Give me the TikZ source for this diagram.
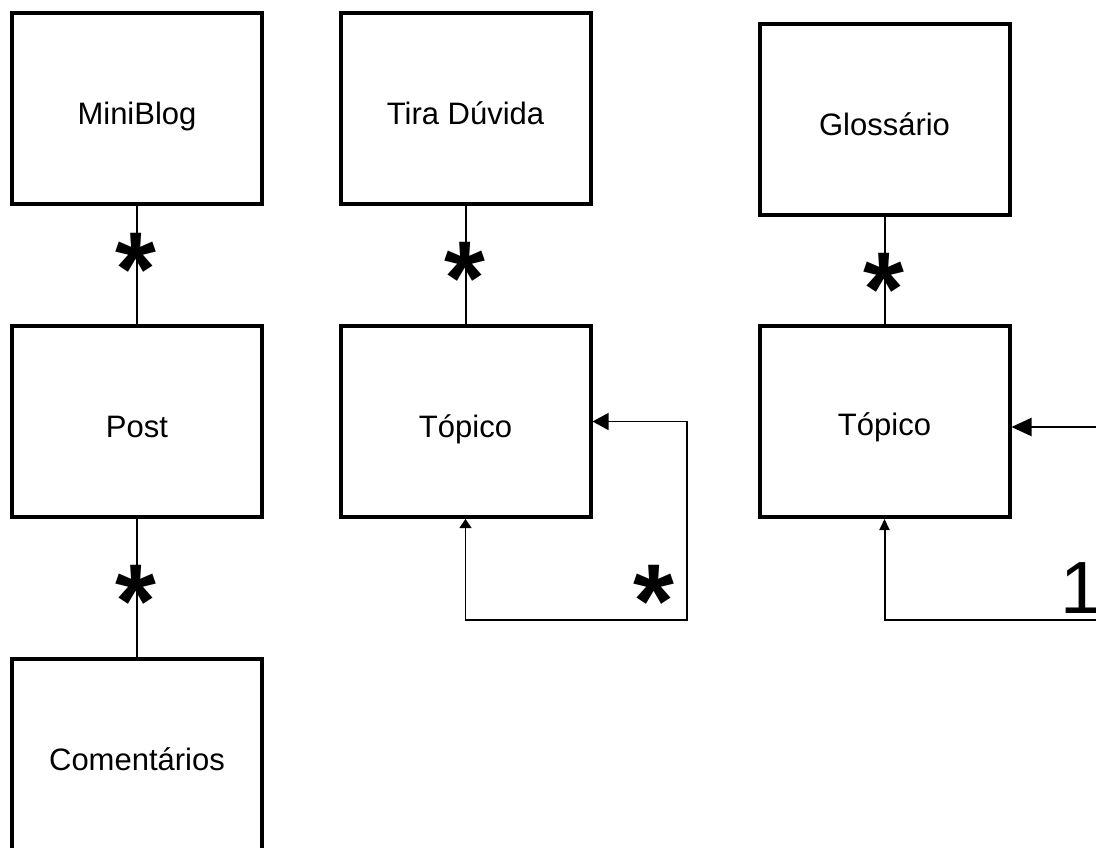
\documentclass[tikz,border=0pt]{standalone}
\usepackage{fontspec}
\setmainfont{Liberation Sans}
\usetikzlibrary{arrows.meta}
\begin{document}
\begin{tikzpicture}[x=1pt,y=-1pt,
  entity/.style={draw, line width=4pt, rectangle, minimum width=250pt,
                 minimum height=191pt, inner sep=0pt},
  title/.style={anchor=base, inner sep=0pt, font=\fontsize{31}{36}\selectfont},
  link/.style={line width=2pt},
  thinlink/.style={line width=1.3pt},
  many/.style={anchor=base, inner sep=0pt, font=\fontsize{105}{115}\selectfont\bfseries},
  one/.style={anchor=base west, inner sep=0pt, font=\fontsize{74}{80}\selectfont}]
\useasboundingbox (0,0) rectangle (1096,847);
\clip (0,0) rectangle (1096,847);
\fill[white] (0,0) rectangle (1096,847);

% MiniBlog column
\node[entity] (mb)   at (137,108)   {};
\node[entity] (post) at (137,421.5) {};
\node[entity] (com)  at (137,754.5) {};
\node[title] (mbt)   at ([yshift=-16pt]mb.center)   {MiniBlog};
\node[title] (postt) at ([yshift=-16pt]post.center) {Post};
\node[title] (comt)  at ([yshift=-16pt]com.center)  {Comentários};
\draw[link] (mb.south) -- (post.north);
\draw[link] (post.south) -- (com.north);
\node[many] (s1) at (136,305) {*};
\node[many] (s2) at (136,637) {*};

% Tira Duvida column
\node[entity] (td) at (465.5,108)   {};
\node[entity] (tm) at (465.5,421.5) {};
\node[title] (tdt) at ([yshift=-16pt]td.center) {Tira Dúvida};
\node[title] (tmt) at ([yshift=-16pt]tm.center) {Tópico};
\draw[link] (td.south) -- (tm.north);
\node[many] (s3) at (465,314) {*};
\coordinate (mloop) at (687,620);
\draw[thinlink, {Triangle[length=16pt,width=17pt]}-{Triangle[length=9pt,width=12pt]}]
  (tm.east) -| (mloop) -| (tm.south);
\node[many] (s4) at (654,637) {*};

% Glossario column
\node[entity] (gl) at (884.5,119.5) {};
\node[entity] (tr) at (884.5,421.5) {};
\node[title] (glt) at ([yshift=-15.5pt]gl.center) {Glossário};
\node[title] (trt) at ([yshift=-14pt]tr.center)   {Tópico};
\draw[link] (gl.south) -- (tr.north);
\node[many] (s5) at (884,325) {*};
\coordinate (rin)  at (1100,427);
\coordinate (rout) at (1100,620);
\draw[link, {Triangle[length=20pt,width=18pt]}-] (tr.east |- rin) -- (rin);
\draw[link, -{Triangle[length=11pt,width=10pt]}] (rout) -| (tr.south);
\node[one] (n1) at (1060,613) {1};
\end{tikzpicture}
\end{document}
